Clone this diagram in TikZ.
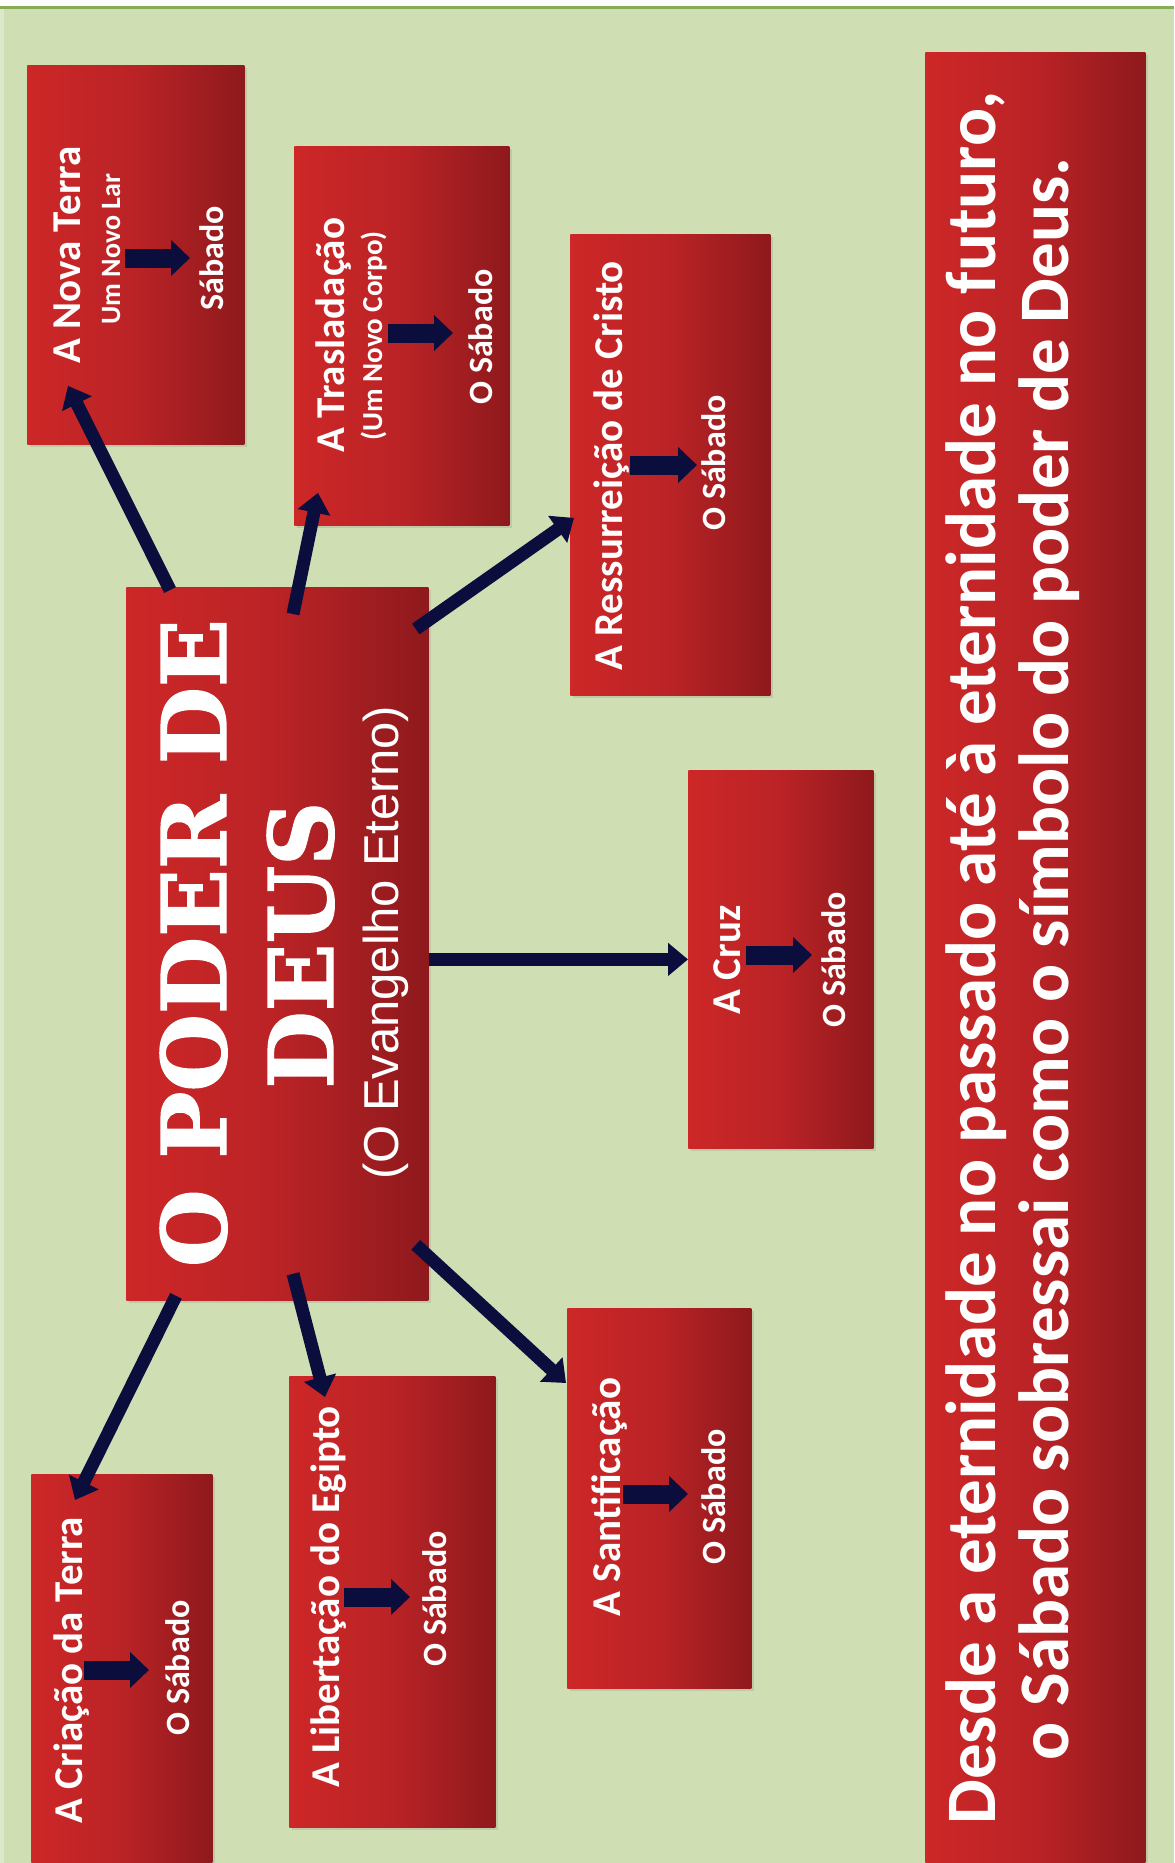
\documentclass[tikz,border=0pt]{standalone}
\usepackage{fontspec}
\setmainfont{Carlito}
\newfontfamily\slabfont{DejaVu Serif}[BoldFeatures={FakeBold=1.6}]
\newfontfamily\narrowfont{Liberation Sans}
\usetikzlibrary{
  arrows.meta,
  shadows
}
\definecolor{Sage}{HTML}{D0DEB3}
\definecolor{SageEdge}{HTML}{DDE8CB}
\definecolor{SageLine}{HTML}{86AD55}
\definecolor{BoxRed}{HTML}{CD2727}
\definecolor{BoxMid}{HTML}{BA2326}
\definecolor{BoxDark}{HTML}{8E191C}
\definecolor{Navy}{HTML}{0B0D3D}
\tikzset{
  % Red panel: width and height in pixels
  caixa/.style 2 args={
    rectangle, anchor=north west, inner sep=0pt,
    minimum width=#1*0.5pt, minimum height=#2*0.5pt,
    left color=BoxRed, right color=BoxDark, middle color=BoxMid,
    drop shadow={opacity=0.22, shadow xshift=1.5pt, shadow yshift=-1.5pt}
  },
  % Rotated white text, placed by its baseline
  rot/.style={rotate=90, anchor=base, inner sep=0pt, text=white},
  titulo/.style={rot, font=\bfseries\fontsize{20.5}{24}\selectfont},
  subtit/.style={rot, font=\bfseries\fontsize{#1}{16}\selectfont},
  legenda/.style={rot, font=\bfseries\fontsize{17}{20}\selectfont},
  % Connector from the centre panel
  lig/.style={draw=Navy, line width=6.5pt, -{Triangle[length=10pt,width=16pt]}},
  % Short block arrow inside a panel
  seta/.style={draw=Navy, line width=9.5pt, -{Triangle[length=9.5pt,width=17.5pt]}}
}

\begin{document}
\begin{tikzpicture}[x=0.5pt,y=-0.5pt]

  \useasboundingbox (0,0) rectangle (1174,1863);
  \clip (0,0) rectangle (1174,1863);

  % Background
  \fill[white] (0,0) rectangle (1174,1863);
  \fill[Sage] (0,9) rectangle (1174,1863);
  \fill[SageEdge] (0,9) rectangle (4,1863);
  \draw[SageLine, line width=1.3pt] (0,7.5) -- (1174,7.5);

  % Panels
  \node[caixa={217}{379}]  (nova)    at (27,65)    {};
  \node[caixa={215}{379}]  (trasl)   at (294,146)  {};
  \node[caixa={200}{461}]  (ress)    at (570,234)  {};
  \node[caixa={185}{378}]  (cruz)    at (688,770)  {};
  \node[caixa={184}{380}]  (sant)    at (567,1308) {};
  \node[caixa={206}{451}]  (libert)  at (289,1376) {};
  \node[caixa={181}{400}]  (criacao) at (31,1474)  {};
  \node[caixa={302}{713}]  (poder)   at (126,587)  {};
  \node[caixa={220}{1830}] (rodape)  at (925,52)   {};

  % Connectors from the centre
  \draw[lig] ([shift={(44,3)}]poder.north west)   -- ([shift={(41,-59)}]nova.south west);
  \draw[lig] ([shift={(167,27)}]poder.north west) -- ([shift={(24,-33)}]trasl.south west);
  \draw[lig] ([shift={(-13,42)}]poder.north east) -- ([shift={(4,53)}]ress.west);
  \draw[lig] (poder.east |- cruz.west)             -- (cruz.west);
  \draw[lig] ([shift={(-13,-56)}]poder.south east) -- ([shift={(-1,75)}]sant.north west);
  \draw[lig] ([shift={(167,-27)}]poder.south west) -- ([shift={(36,21)}]libert.north west);
  \draw[lig] ([shift={(50,-5)}]poder.south west)   -- ([shift={(44,26)}]criacao.north west);

  % Centre panel text
  \node[rot, font=\slabfont\bfseries\fontsize{44.5}{50}\selectfont] (poderA) at (226,943) {O PODER DE};
  \node[rot, font=\slabfont\bfseries\fontsize{44.5}{50}\selectfont] (poderB) at (333,945) {DEUS};
  \node[rot, font=\narrowfont\fontsize{24.5}{28}\selectfont]        (poderC) at (398,943) {(O Evangelho Eterno)};

  % A Nova Terra
  \node[titulo]       (novaT) at (80,255)  {A Nova Terra};
  \node[subtit=14]    (novaS) at (120,249) {Um Novo Lar};
  \node[legenda]      (novaL) at (223,258) {Sábado};
  \coordinate (novaA) at (125,258); \coordinate (novaB) at (190,258);
  \draw[seta] (novaA) -- (novaB);

  % A Trasladação
  \node[titulo]       (traslT) at (344,335) {A Trasladação};
  \node[subtit=14.5]  (traslS) at (382,336) {(Um Novo Corpo)};
  \node[legenda]      (traslL) at (492,337) {O Sábado};
  \coordinate (traslA) at (388,333); \coordinate (traslB) at (453,333);
  \draw[seta] (traslA) -- (traslB);

  % A Ressurreição de Cristo
  \node[titulo]  (ressT) at (622,466) {A Ressurreição de Cristo};
  \node[legenda] (ressL) at (725,463) {O Sábado};
  \coordinate (ressA) at (630,465); \coordinate (ressB) at (697,465);
  \draw[seta] (ressA) -- (ressB);

  % A Cruz
  \node[titulo]  (cruzT) at (740,960) {A Cruz};
  \node[legenda] (cruzL) at (845,960) {O Sábado};
  \coordinate (cruzA) at (746,955); \coordinate (cruzB) at (812,955);
  \draw[seta] (cruzA) -- (cruzB);

  % A Santificação
  \node[titulo]  (santT) at (620,1497) {A Santificação};
  \node[legenda] (santL) at (725,1497) {O Sábado};
  \coordinate (santA) at (623,1494); \coordinate (santB) at (688,1494);
  \draw[seta] (santA) -- (santB);

  % A Libertação do Egipto
  \node[titulo]  (libertT) at (339,1597) {A Libertação do Egipto};
  \node[legenda] (libertL) at (446,1599) {O Sábado};
  \coordinate (libertA) at (344,1597); \coordinate (libertB) at (410,1597);
  \draw[seta] (libertA) -- (libertB);

  % A Criação da Terra
  \node[titulo]  (criacaoT) at (82,1670)  {A Criação da Terra};
  \node[legenda] (criacaoL) at (189,1668) {O Sábado};
  \coordinate (criacaoA) at (84,1670); \coordinate (criacaoB) at (149,1670);
  \draw[seta] (criacaoA) -- (criacaoB);

  % Closing statement
  \node[rot, font=\bfseries\fontsize{35.5}{40}\selectfont] (rodapeA) at (995,958)
    {Desde a eternidade no passado até à eternidade no futuro,};
  \node[rot, font=\bfseries\fontsize{35.5}{40}\selectfont] (rodapeB) at (1068,959)
    {o Sábado sobressai como o símbolo do poder de Deus.};

\end{tikzpicture}
\end{document}
